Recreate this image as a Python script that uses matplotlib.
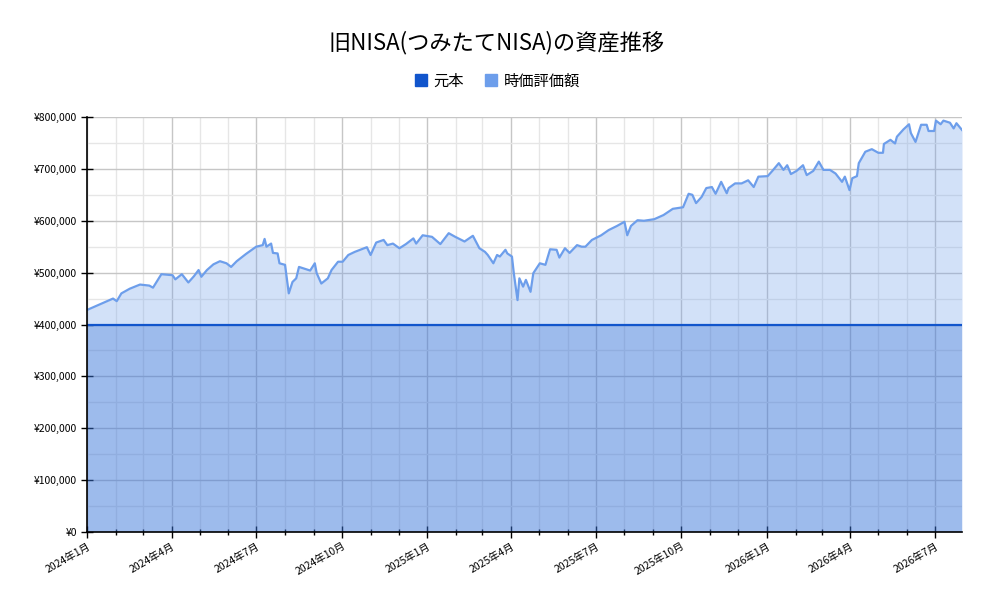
import matplotlib
matplotlib.use("Agg")
import matplotlib.pyplot as plt
import matplotlib.dates as mdates
from matplotlib.ticker import FuncFormatter, MultipleLocator
from matplotlib.lines import Line2D
import pandas as pd

plt.rcParams['font.family'] = ['Noto Sans CJK JP', 'DejaVu Sans']

title = "旧NISA(つみたてNISA)の資産推移"
series_names = ["元本", "時価評価額"]
colors = ["#1155cc", "#6d9eeb"]

dates = [
    "2024-01-01", "2024-01-15", "2024-01-29", "2024-02-02", "2024-02-07", "2024-02-16", "2024-02-27",
    "2024-03-08", "2024-03-12", "2024-03-21", "2024-04-02", "2024-04-05", "2024-04-12", "2024-04-19",
    "2024-04-25", "2024-04-30", "2024-05-03", "2024-05-09", "2024-05-16", "2024-05-23", "2024-05-30",
    "2024-06-04", "2024-06-10", "2024-06-20", "2024-07-01", "2024-07-08", "2024-07-10", "2024-07-12",
    "2024-07-17", "2024-07-19", "2024-07-24", "2024-07-26", "2024-08-01", "2024-08-05", "2024-08-09",
    "2024-08-13", "2024-08-16", "2024-08-28", "2024-09-02", "2024-09-04", "2024-09-09", "2024-09-16",
    "2024-09-20", "2024-09-27", "2024-10-02", "2024-10-08", "2024-10-15", "2024-10-28", "2024-11-01",
    "2024-11-07", "2024-11-15", "2024-11-19", "2024-11-25", "2024-12-02", "2024-12-09", "2024-12-17",
    "2024-12-20", "2024-12-27", "2025-01-06", "2025-01-15", "2025-01-24", "2025-01-31", "2025-02-10",
    "2025-02-19", "2025-02-26", "2025-03-04", "2025-03-07", "2025-03-13", "2025-03-17", "2025-03-20",
    "2025-03-26", "2025-03-28", "2025-04-02", "2025-04-04", "2025-04-08", "2025-04-10", "2025-04-14",
    "2025-04-17", "2025-04-22", "2025-04-25", "2025-05-02", "2025-05-08", "2025-05-13", "2025-05-20",
    "2025-05-23", "2025-05-29", "2025-06-03", "2025-06-11", "2025-06-16", "2025-06-20", "2025-06-27",
    "2025-07-07", "2025-07-15", "2025-07-24", "2025-08-01", "2025-08-04", "2025-08-08", "2025-08-15",
    "2025-08-22", "2025-09-02", "2025-09-12", "2025-09-22", "2025-09-29", "2025-10-03", "2025-10-09",
    "2025-10-13", "2025-10-17", "2025-10-23", "2025-10-28", "2025-11-03", "2025-11-07", "2025-11-13",
    "2025-11-19", "2025-11-21", "2025-11-28", "2025-12-05", "2025-12-12", "2025-12-18", "2025-12-23",
    "2026-01-02", "2026-01-07", "2026-01-14", "2026-01-19", "2026-01-23", "2026-01-27", "2026-02-02",
    "2026-02-09", "2026-02-13", "2026-02-20", "2026-02-26", "2026-03-03", "2026-03-10", "2026-03-16",
    "2026-03-23", "2026-03-26", "2026-03-31", "2026-04-03", "2026-04-08", "2026-04-10", "2026-04-17",
    "2026-04-24", "2026-05-01", "2026-05-06", "2026-05-07", "2026-05-14", "2026-05-19", "2026-05-21",
    "2026-05-28", "2026-06-03", "2026-06-05", "2026-06-10", "2026-06-16", "2026-06-22", "2026-06-24",
    "2026-06-30", "2026-07-02", "2026-07-07", "2026-07-10", "2026-07-17", "2026-07-21", "2026-07-24",
    "2026-07-30",
]

market_value = [
    428000, 439000, 450000, 445000, 460000, 469000, 477000,
    475000, 471000, 497000, 495000, 487000, 497000, 481000,
    493000, 505000, 492000, 505000, 516000, 522000, 518000,
    511000, 522000, 536000, 550000, 553000, 565000, 550000,
    556000, 538000, 537000, 518000, 515000, 460000, 482000,
    489000, 511000, 504000, 518000, 499000, 479000, 489000,
    505000, 521000, 521000, 534000, 540000, 549000, 534000,
    558000, 563000, 553000, 556000, 547000, 555000, 566000,
    556000, 572000, 569000, 555000, 576000, 569000, 560000,
    571000, 547000, 540000, 534000, 518000, 534000, 531000,
    544000, 537000, 531000, 499000, 447000, 489000, 473000,
    486000, 463000, 499000, 518000, 515000, 545000, 544000,
    529000, 547000, 538000, 553000, 550000, 550000, 563000,
    572000, 582000, 590000, 598000, 572000, 590000, 601000,
    600000, 603000, 611000, 623000, 625000, 626000, 652000,
    650000, 634000, 646000, 663000, 665000, 652000, 675000,
    653000, 663000, 672000, 672000, 678000, 665000, 685000,
    686000, 696000, 711000, 698000, 707000, 690000, 696000,
    707000, 688000, 696000, 714000, 698000, 698000, 691000,
    675000, 685000, 659000, 682000, 686000, 711000, 733000,
    738000, 731000, 731000, 748000, 756000, 749000, 762000,
    776000, 786000, 769000, 752000, 785000, 785000, 773000,
    773000, 793000, 786000, 793000, 789000, 778000, 788000,
    775000,
]

principal = [400000] * len(dates)

x = pd.to_datetime(dates)

fig = plt.figure(figsize=(9.93, 6.11), dpi=100)
ax = fig.add_axes([0.0876, 0.1293, 0.9688 - 0.0876, 0.8085 - 0.1293])

ax.fill_between(x, 0, market_value, color=colors[1], alpha=0.3, linewidth=0, zorder=2)
ax.fill_between(x, 0, principal, color=colors[0], alpha=0.27, linewidth=0, zorder=3)
ax.plot(x, market_value, color=colors[1], linewidth=1.6, zorder=4)
ax.plot(x, principal, color=colors[0], linewidth=1.6, zorder=5)

ax.set_xlim(x[0], x[-1])
ax.set_ylim(0, 800000)

ax.yaxis.set_major_locator(MultipleLocator(100000))
ax.yaxis.set_minor_locator(MultipleLocator(50000))
ax.yaxis.set_major_formatter(FuncFormatter(lambda v, p: f"¥{int(v):,}"))

ax.xaxis.set_major_locator(mdates.MonthLocator(bymonth=[1, 4, 7, 10]))
ax.xaxis.set_minor_locator(mdates.MonthLocator())
ax.xaxis.set_major_formatter(FuncFormatter(
    lambda v, p: f"{mdates.num2date(v).year}年{mdates.num2date(v).month}月"))

ax.grid(which='major', color='#c6c6c6', linewidth=1.0, zorder=1)
ax.grid(which='minor', color='#e6e6e6', linewidth=1.0, zorder=1)
ax.set_axisbelow(True)

for s in ['top', 'right']:
    ax.spines[s].set_visible(False)
for s in ['left', 'bottom']:
    ax.spines[s].set_color('black')
    ax.spines[s].set_linewidth(1.2)
    ax.spines[s].set_zorder(6)

ax.tick_params(axis='y', which='major', direction='inout', length=8, width=1, labelsize=7.5, pad=3)
ax.tick_params(axis='y', which='minor', length=0)
ax.tick_params(axis='x', which='major', direction='inout', length=8.5, width=1, labelsize=7.5, pad=2)
ax.tick_params(axis='x', which='minor', direction='inout', length=4.5, width=1)
for lbl in ax.get_xticklabels():
    lbl.set_rotation(30)
    lbl.set_ha('right')
    lbl.set_rotation_mode('anchor')

fig.text(0.5, 0.931, title, ha='center', va='center', fontsize=16)

handles = [Line2D([0], [0], marker='s', linestyle='none', markersize=9,
                  markerfacecolor=c, markeredgecolor=c) for c in colors]
fig.legend(handles, series_names, loc='center', bbox_to_anchor=(0.5, 0.867), ncol=2,
           frameon=False, fontsize=11, handletextpad=0.3, columnspacing=1.3, handlelength=1.0)

fig.savefig("out.png", dpi=100)
